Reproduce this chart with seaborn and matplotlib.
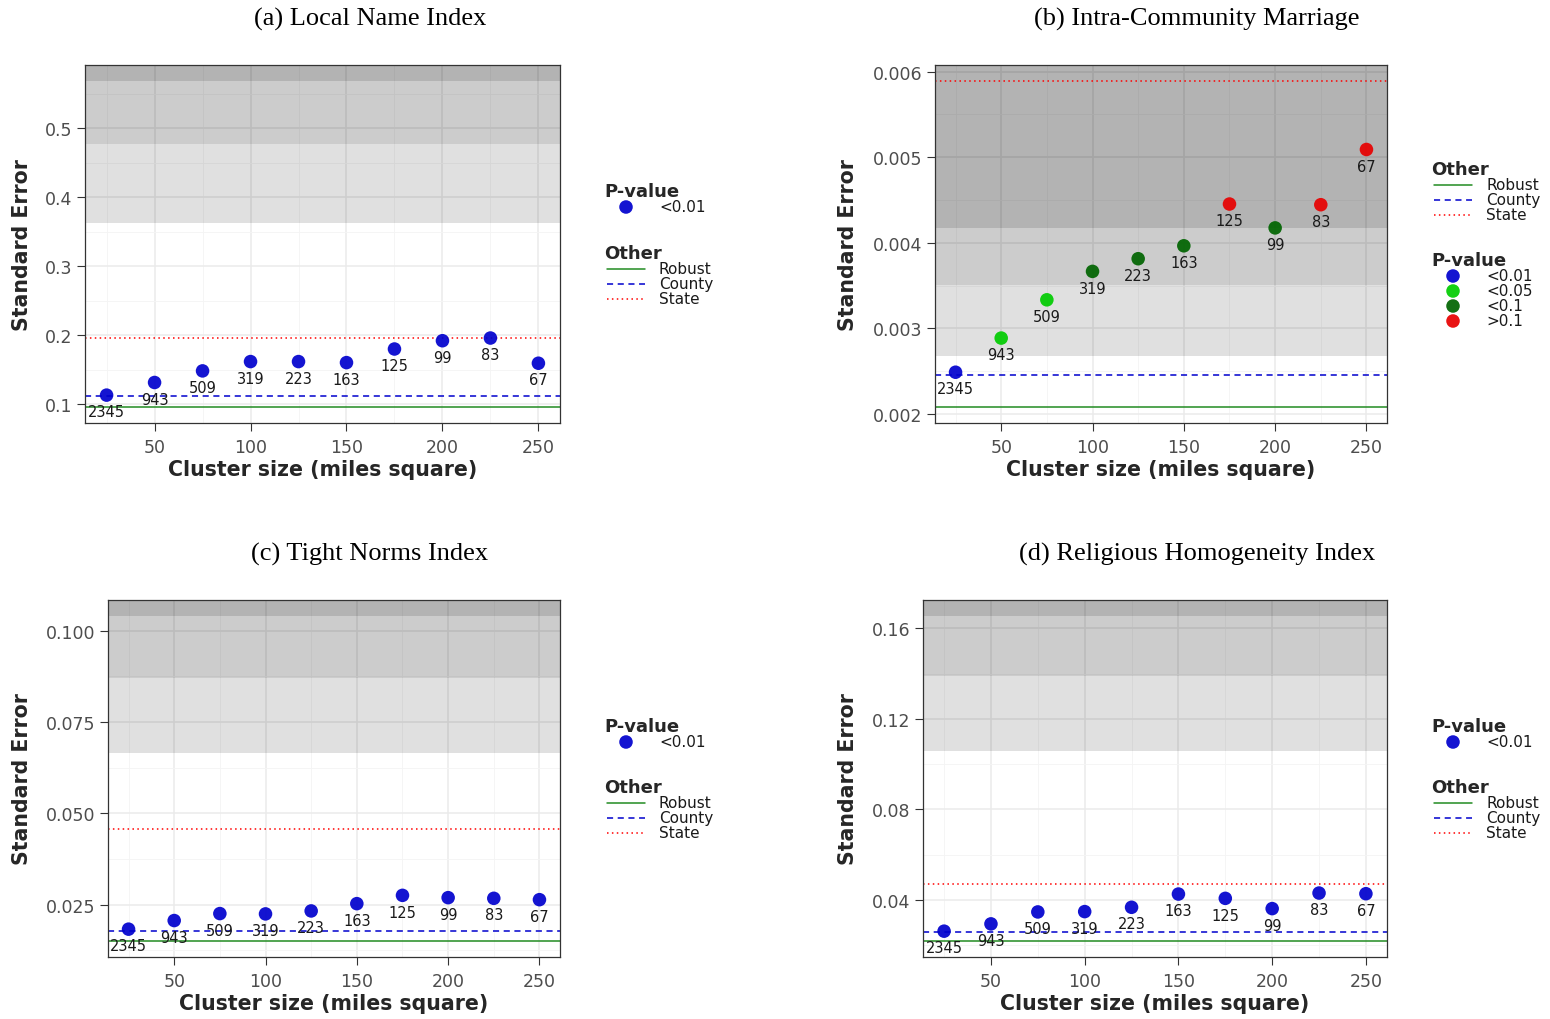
import numpy as np
import pandas as pd
import matplotlib
matplotlib.use("Agg")
import matplotlib.pyplot as plt
import seaborn as sns
from matplotlib.ticker import FixedLocator, FixedFormatter

# ---------------- data ----------------
cluster_size = [25, 50, 75, 100, 125, 150, 175, 200, 225, 250]
n_clusters = ["2345", "943", "509", "319", "223", "163", "125", "99", "83", "67"]

panel_titles = ["(a) Local Name Index", "(b) Intra-Community Marriage",
                "(c) Tight Norms Index", "(d) Religious Homogeneity Index"]

se_a = [0.1134, 0.1317, 0.1485, 0.1620, 0.1620, 0.1605, 0.1802, 0.1922, 0.1961, 0.1596]
se_b = [0.002488, 0.002887, 0.003334, 0.003666, 0.003814, 0.003965, 0.004453, 0.004174, 0.004445, 0.005090]
se_c = [0.01828, 0.02064, 0.02255, 0.02246, 0.02327, 0.02527, 0.02754, 0.02691, 0.02673, 0.02636]
se_d = [0.02624, 0.02946, 0.03473, 0.03488, 0.03678, 0.04263, 0.04073, 0.03620, 0.04307, 0.04278]

pval_a = ["<0.01", "<0.01", "<0.01", "<0.01", "<0.01", "<0.01", "<0.01", "<0.01", "<0.01", "<0.01"]
pval_b = ["<0.01", "<0.05", "<0.05", "<0.1", "<0.1", "<0.1", ">0.1", "<0.1", ">0.1", ">0.1"]
pval_c = ["<0.01", "<0.01", "<0.01", "<0.01", "<0.01", "<0.01", "<0.01", "<0.01", "<0.01", "<0.01"]
pval_d = ["<0.01", "<0.01", "<0.01", "<0.01", "<0.01", "<0.01", "<0.01", "<0.01", "<0.01", "<0.01"]

robust_se = [0.0966, 0.002085, 0.0151, 0.0220]
county_se = [0.1120, 0.002453, 0.01783, 0.0258]
state_se = [0.1960, 0.005887, 0.0457, 0.04702]

# SE thresholds above which p exceeds 0.01 / 0.05 / 0.1
band_p01 = [0.363, 0.002674, 0.0664, 0.1056]
band_p05 = [0.477, 0.003504, 0.0872, 0.1389]
band_p10 = [0.568, 0.004174, 0.1040, 0.1653]

x_ticks = [50, 100, 150, 200, 250]
x_tick_labels = ["50", "100", "150", "200", "250"]
x_minor = [25, 75, 125, 175, 225]

y_ticks = [[0.1, 0.2, 0.3, 0.4, 0.5],
           [0.002, 0.003, 0.004, 0.005, 0.006],
           [0.025, 0.050, 0.075, 0.100],
           [0.04, 0.08, 0.12, 0.16]]
y_tick_labels = [["0.1", "0.2", "0.3", "0.4", "0.5"],
                 ["0.002", "0.003", "0.004", "0.005", "0.006"],
                 ["0.025", "0.050", "0.075", "0.100"],
                 ["0.04", "0.08", "0.12", "0.16"]]
y_minor = [[0.15, 0.25, 0.35, 0.45, 0.55],
           [0.0025, 0.0035, 0.0045, 0.0055],
           [0.0125, 0.0375, 0.0625, 0.0875],
           [0.02, 0.06, 0.10, 0.14]]

pval_levels = ["<0.01", "<0.05", "<0.1", ">0.1"]
pval_colors = ["#0000CD", "#00CC00", "#006400", "#E80000"]
other_labels = ["Robust", "County", "State"]

# ---------------- style ----------------
sns.set_theme(style="white")
plt.rcParams["font.family"] = ["DejaVu Sans"]

W, H = 1550, 1020
fig = plt.figure(figsize=(W / 100, H / 100), dpi=100)

palette = dict(zip(pval_levels, pval_colors))
line_styles = {
    "Robust": dict(color="#228B22", lw=1.1, ls="-"),
    "County": dict(color="#0000CD", lw=1.1, ls=(0, (4, 3))),
    "State": dict(color="#FF0000", lw=1.1, ls=(0, (1, 2.2))),
}
PT_ALPHA = 0.92
PT_SIZE = 95

# panel rectangles in pixels (left, top, right, bottom)
rects = [(85, 66, 560, 424), (935, 66, 1387, 424), (108, 601, 560, 958), (923, 601, 1387, 958)]
ylabel_px = [22, 848, 22, 848]
xlabel_py = [470, 470, 1004, 1004]
title_pos = [(370, 19), (1197, 19), (370, 554), (1197, 554)]

se_all = [se_a, se_b, se_c, se_d]
pv_all = [pval_a, pval_b, pval_c, pval_d]

for i in range(4):
    l, t, r, b = rects[i]
    ax = fig.add_axes([l / W, 1 - b / H, (r - l) / W, (b - t) / H])
    df = pd.DataFrame({"size": cluster_size, "se": se_all[i], "p": pv_all[i], "n": n_clusters})

    # y range like ggplot: data extent + 5%
    lo = min(robust_se[i], min(se_all[i]))
    hi = max(state_se[i], max(se_all[i]), band_p10[i])
    pad = 0.05 * (hi - lo)
    ylo, yhi = lo - pad, hi + pad
    xlo = min(cluster_size) - 0.05 * (max(cluster_size) - min(cluster_size))
    xhi = max(cluster_size) + 0.05 * (max(cluster_size) - min(cluster_size))

    # significance bands (layered translucent grey)
    ax.axhspan(band_p01[i], yhi * 2, color="black", alpha=0.12, lw=0, zorder=1)
    ax.axhspan(band_p05[i], yhi * 2, color="black", alpha=0.085, lw=0, zorder=1)
    ax.axhspan(band_p10[i], yhi * 2, color="black", alpha=0.12, lw=0, zorder=1)

    # reference lines
    ax.axhline(robust_se[i], zorder=2, **line_styles["Robust"])
    ax.axhline(county_se[i], zorder=2, **line_styles["County"])
    ax.axhline(state_se[i], zorder=2, **line_styles["State"])

    sns.scatterplot(data=df, x="size", y="se", hue="p", palette=palette, s=PT_SIZE,
                    alpha=PT_ALPHA, edgecolor="none", legend=False, ax=ax, zorder=3)
    for xs, ys, lab in zip(df["size"], df["se"], df["n"]):
        ax.annotate(lab, (xs, ys), xytext=(0, -12), textcoords="offset points",
                    ha="center", va="center", fontsize=10.5, color="#1a1a1a", zorder=4)

    ax.set_xlim(xlo, xhi)
    ax.set_ylim(ylo, yhi)
    ax.xaxis.set_major_locator(FixedLocator(x_ticks))
    ax.xaxis.set_major_formatter(FixedFormatter(x_tick_labels))
    ax.xaxis.set_minor_locator(FixedLocator(x_minor))
    ax.yaxis.set_major_locator(FixedLocator(y_ticks[i]))
    ax.yaxis.set_major_formatter(FixedFormatter(y_tick_labels[i]))
    ax.yaxis.set_minor_locator(FixedLocator(y_minor[i]))
    ax.set_axisbelow(True)
    ax.grid(which="major", color="#EBEBEB", lw=1.1, zorder=0)
    ax.grid(which="minor", color="#F4F4F4", lw=0.6, zorder=0)
    ax.tick_params(which="major", direction="out", length=5.5, width=0.8, color="#333333",
                   labelsize=12.5, labelcolor="#4D4D4D", pad=3.5, left=True, bottom=True)
    ax.tick_params(axis="x", which="major", pad=5)
    ax.tick_params(which="minor", length=0)
    for sp in ax.spines.values():
        sp.set_color("#333333")
        sp.set_linewidth(0.9)
        sp.set_visible(True)

    ax.set_xlabel("Cluster size (miles square)", fontsize=14.8, fontweight="bold", va="center")
    ax.set_ylabel("Standard Error", fontsize=14.8, fontweight="bold", va="center")
    ax.xaxis.set_label_coords(0.5, (b - xlabel_py[i]) / (b - t))
    ax.yaxis.set_label_coords((ylabel_px[i] - l) / (r - l), 0.5)

# ---------------- overlay for titles and legends (pixel coordinates) ----------------
ov = fig.add_axes([0, 0, 1, 1])
ov.set_xlim(0, W)
ov.set_ylim(H, 0)
ov.axis("off")
ov.patch.set_alpha(0)

for i in range(4):
    ov.text(title_pos[i][0], title_pos[i][1], panel_titles[i], ha="center", va="center",
            fontsize=19, family=["Liberation Serif", "DejaVu Serif"], color="black")


def legend_pvalue(x0, y0, levels):
    ov.text(x0, y0, "P-value", fontsize=13, fontweight="bold", ha="left", va="center")
    for k, lev in enumerate(levels):
        y = y0 + 16 + 15 * k
        ov.scatter([x0 + 22], [y], s=PT_SIZE, color=palette[lev], alpha=PT_ALPHA, edgecolor="none")
        ov.text(x0 + 55, y, lev, fontsize=11, ha="left", va="center", color="#1a1a1a")


def legend_other(x0, y0):
    ov.text(x0, y0, "Other", fontsize=13, fontweight="bold", ha="left", va="center")
    for k, lab in enumerate(other_labels):
        y = y0 + 16 + 15 * k
        ov.plot([x0 + 3, x0 + 41], [y, y], **line_styles[lab])
        ov.text(x0 + 55, y, lab, fontsize=11, ha="left", va="center", color="#1a1a1a")


legend_pvalue(604, 192, ["<0.01"])
legend_other(604, 254)
legend_other(1431, 170)
legend_pvalue(1431, 261, pval_levels)
legend_pvalue(604, 727, ["<0.01"])
legend_other(604, 788)
legend_pvalue(1431, 727, ["<0.01"])
legend_other(1431, 788)

fig.savefig("out.png", dpi=100, facecolor="white")
